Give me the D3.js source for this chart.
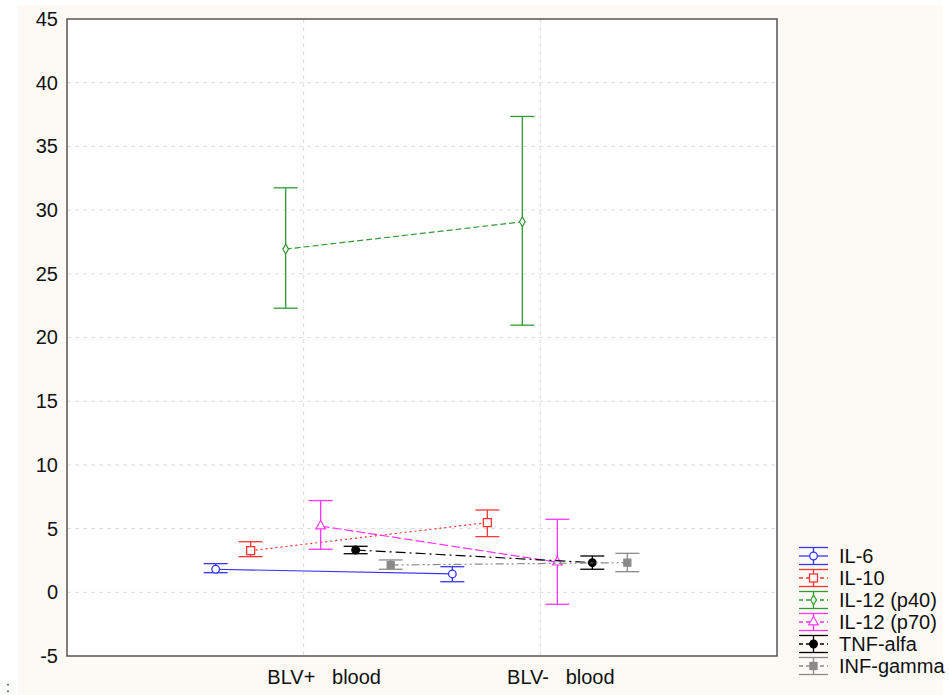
<!DOCTYPE html>
<html>
<head>
<meta charset="utf-8">
<script src="https://cdn.jsdelivr.net/npm/d3@7"></script>
<style>
  body { margin: 0; background: #fff; }
  text { font-family: "Liberation Sans", Arial, sans-serif; fill: #111; }
</style>
</head>
<body>
<div id="chart"></div>
<script>
// groups on the x axis
const groups = ["BLV+   blood", "BLV-   blood"];
// series names (legend order)
const series = ["IL-6", "IL-10", "IL-12 (p40)", "IL-12 (p70)", "TNF-alfa", "INF-gamma"];
// means per series, one value per group
const means = [
  [1.81, 1.44],
  [3.27, 5.47],
  [26.94, 29.08],
  [5.2, 2.36],
  [3.32, 2.33],
  [2.14, 2.33]
];
// upper / lower error bar limits
const upper = [
  [2.25, 2.01],
  [3.97, 6.46],
  [31.75, 37.35],
  [7.2, 5.73],
  [3.61, 2.85],
  [2.54, 3.06]
];
const lower = [
  [1.54, 0.83],
  [2.8, 4.37],
  [22.3, 20.97],
  [3.38, -0.94],
  [3.03, 1.81],
  [1.81, 1.62]
];
const yTicks = [-5, 0, 5, 10, 15, 20, 25, 30, 35, 40, 45];

const colors = ["#3535ff", "#ff3535", "#339933", "#ff35ff", "#000000", "#8a8a8a"];
const dashes = [null, "2,3", "6,3", "9,3", "10,4,2,4", "8,3,2,3,2,3"];
const markers = ["circle", "square", "diamond", "triangle", "dot", "block"];

const W = 949, H = 695;
const m = {left: 67, top: 19, right: 777, bottom: 656};
const fontSize = "20px";

const svg = d3.select("#chart").append("svg")
  .attr("width", W).attr("height", H);

// cream background like the original export
svg.append("rect").attr("x", 18).attr("y", 5).attr("width", 925).attr("height", 690)
  .attr("fill", "#fdfaf5");
svg.append("rect").attr("x", m.left).attr("y", m.top)
  .attr("width", m.right - m.left).attr("height", m.bottom - m.top)
  .attr("fill", "#fff");

const x = d3.scalePoint().domain(groups).range([m.left, m.right]).padding(1);
const dodge = d3.scalePoint().domain(series).range([-88, 87]);
const y = d3.scaleLinear().domain([-5, 45]).range([m.bottom, m.top]);

// grid
const grid = svg.append("g").attr("stroke", "#dcdcdc").attr("stroke-dasharray", "4,4");
grid.selectAll("line.h").data(yTicks.slice(1, -1)).enter().append("line")
  .attr("x1", m.left).attr("x2", m.right)
  .attr("y1", d => y(d)).attr("y2", d => y(d));
grid.selectAll("line.v").data(groups).enter().append("line")
  .attr("x1", d => x(d)).attr("x2", d => x(d))
  .attr("y1", m.top).attr("y2", m.bottom);

// axes (labels only, frame drawn separately)
const yAxis = svg.append("g").attr("transform", `translate(${m.left},0)`)
  .call(d3.axisLeft(y).tickValues(yTicks).tickFormat(d => String(d)).tickSize(0).tickPadding(9));
yAxis.select(".domain").remove();
yAxis.selectAll("text").style("font-size", fontSize).style("font-family", "Liberation Sans, Arial, sans-serif").attr("fill", "#111");

const xAxis = svg.append("g").attr("transform", `translate(0,${m.bottom})`)
  .call(d3.axisBottom(x).tickSize(0).tickPadding(14));
xAxis.select(".domain").remove();
xAxis.selectAll("text").style("font-size", fontSize).style("font-family", "Liberation Sans, Arial, sans-serif")
  .attr("fill", "#111").attr("dx", 20).style("white-space", "pre");

// marker drawing
function drawMarker(g, type, cx, cy, color) {
  if (type === "circle" || type === "dot") {
    g.append("circle").attr("cx", cx).attr("cy", cy).attr("r", 3.8)
      .attr("fill", type === "dot" ? color : "#fff").attr("stroke", color).attr("stroke-width", 1.3);
  } else if (type === "square" || type === "block") {
    const s = type === "block" ? 7 : 8;
    g.append("rect").attr("x", cx - s / 2).attr("y", cy - s / 2).attr("width", s).attr("height", s)
      .attr("fill", type === "block" ? color : "#fff").attr("stroke", color).attr("stroke-width", 1.3);
  } else if (type === "diamond") {
    g.append("path").attr("d", d3.symbol(d3.symbolDiamond, 28)())
      .attr("transform", `translate(${cx},${cy})`)
      .attr("fill", "#fff").attr("stroke", color).attr("stroke-width", 1.2);
  } else if (type === "triangle") {
    g.append("path").attr("d", d3.symbol(d3.symbolTriangle, 40)())
      .attr("transform", `translate(${cx},${cy})`)
      .attr("fill", "#fff").attr("stroke", color).attr("stroke-width", 1.2);
  }
}

const capW = 12;
const plot = svg.append("g");

series.forEach((s, i) => {
  const g = plot.append("g");
  const pts = groups.map((grp, j) => [x(grp) + dodge(s), y(means[i][j])]);
  g.append("path").attr("d", d3.line()(pts)).attr("fill", "none")
    .attr("stroke", colors[i]).attr("stroke-width", 1.2)
    .attr("stroke-dasharray", dashes[i]);
  groups.forEach((grp, j) => {
    const cx = x(grp) + dodge(s);
    const eb = g.append("g").attr("stroke", colors[i]).attr("stroke-width", 1.3);
    eb.append("line").attr("x1", cx).attr("x2", cx).attr("y1", y(upper[i][j])).attr("y2", y(lower[i][j]));
    eb.append("line").attr("x1", cx - capW).attr("x2", cx + capW).attr("y1", y(upper[i][j])).attr("y2", y(upper[i][j]));
    eb.append("line").attr("x1", cx - capW).attr("x2", cx + capW).attr("y1", y(lower[i][j])).attr("y2", y(lower[i][j]));
  });
  groups.forEach((grp, j) => drawMarker(g, markers[i], x(grp) + dodge(s), y(means[i][j]), colors[i]));
});

// frame
svg.append("rect").attr("x", m.left).attr("y", m.top)
  .attr("width", m.right - m.left).attr("height", m.bottom - m.top)
  .attr("fill", "none").attr("stroke", "#555").attr("stroke-width", 1.5);

// legend
const leg = svg.append("g").attr("transform", "translate(799,556)");
series.forEach((s, i) => {
  const row = leg.append("g").attr("transform", `translate(0,${i * 22})`);
  const c = colors[i];
  row.append("line").attr("x1", 0).attr("x2", 29).attr("y1", -8.5).attr("y2", -8.5).attr("stroke", c).attr("stroke-width", 1.3);
  row.append("line").attr("x1", 0).attr("x2", 29).attr("y1", 8.5).attr("y2", 8.5).attr("stroke", c).attr("stroke-width", 1.3);
  row.append("line").attr("x1", 14.5).attr("x2", 14.5).attr("y1", -8.5).attr("y2", 8.5).attr("stroke", c).attr("stroke-width", 1.3);
  row.append("line").attr("x1", 0).attr("x2", 29).attr("y1", 0).attr("y2", 0).attr("stroke", c).attr("stroke-width", 1.3)
    .attr("stroke-dasharray", dashes[i] ? "4,3" : null);
  drawMarker(row, markers[i], 14.5, 0, c);
  row.append("text").attr("x", 40).attr("y", 7).style("font-size", fontSize).text(s);
});

svg.append("text").attr("x", 6).attr("y", 692).style("font-size", "14px").text(":");
</script>
</body>
</html>
